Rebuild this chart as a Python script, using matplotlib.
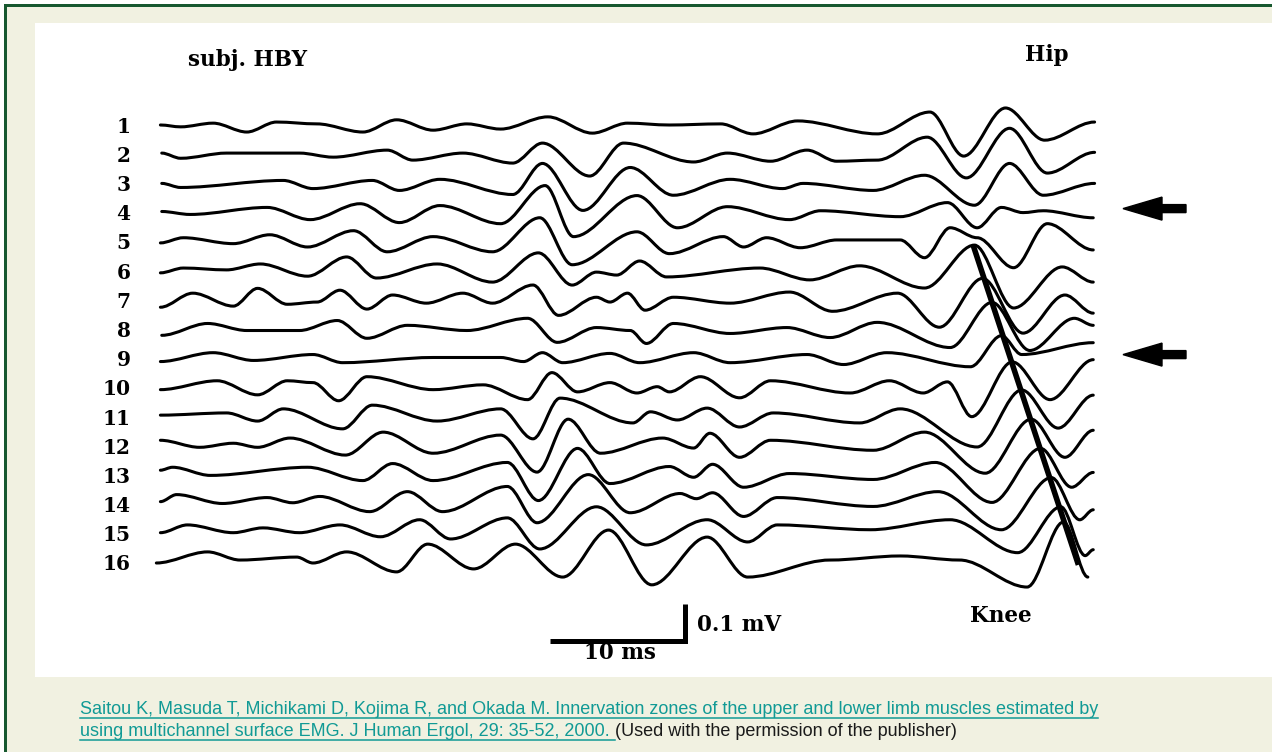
import matplotlib
matplotlib.use("Agg")
import matplotlib.pyplot as plt
from matplotlib.path import Path
from matplotlib.patches import PathPatch, Rectangle, FancyArrow
from matplotlib.transforms import offset_copy
from matplotlib import font_manager

# ==================== DATA: waveform landmarks (time in ms, amplitude in uV) ====================
ch1_t = [0.4, 1.9, 4.3, 6.8, 9.0, 12.0, 15.4, 17.9, 20.6, 23.1, 25.6, 29.1, 32.4, 35.0, 38.1, 41.9, 44.3, 47.6, 53.5, 57.4, 59.9, 63.0, 65.9, 69.6]
ch1_uv = [0, -5, 5, -19, 8, 3, -19, 14, -14, 3, -11, 22, -22, 5, 0, 3, -24, 11, -24, 35, -84, 46, -41, 8]
ch2_t = [0.5, 1.9, 5.3, 10.7, 13.2, 17.2, 19.1, 22.8, 26.5, 28.7, 32.2, 34.7, 39.9, 42.4, 45.6, 48.3, 50.5, 53.5, 57.2, 60.1, 63.3, 66.1, 69.6]
ch2_uv = [3, -11, 3, 3, -8, 11, -16, 3, -24, 30, -59, 30, -21, 3, -19, 11, -19, -16, 46, -64, 70, -51, 5]
ch3_t = [0.5, 1.9, 9.5, 11.7, 16.1, 18.1, 21.1, 26.5, 28.7, 31.7, 35.2, 38.4, 42.6, 46.5, 48.0, 53.2, 57.0, 60.7, 63.3, 65.8, 69.6]
ch3_uv = [0, -11, 8, -14, 8, -19, 11, -30, 54, -73, 43, -32, 11, -14, 0, -19, 22, -59, 54, -32, 0]
ch4_t = [0.5, 2.6, 8.3, 11.5, 15.2, 18.1, 21.1, 25.6, 28.9, 31.0, 35.7, 38.7, 42.4, 47.0, 49.3, 55.2, 58.7, 60.9, 62.7, 64.3, 65.8, 69.5]
ch4_uv = [3, -5, 14, -19, 24, -27, 19, -30, 73, -65, 46, -41, 16, -19, 5, -11, 27, -41, 14, 0, 5, -14]
ch5_t = [0.4, 2.1, 5.8, 8.5, 11.3, 14.7, 17.2, 20.6, 25.0, 28.5, 30.9, 35.7, 38.1, 42.1, 43.6, 45.3, 47.8, 50.5, 55.2, 57.0, 58.9, 60.9, 63.6, 66.1, 69.5]
ch5_uv = [-3, 11, -5, 19, -14, 30, -27, 14, -27, 65, -62, 27, -32, 14, -14, 11, -16, 5, 5, -43, 38, 11, -70, 49, -22]
ch6_t = [0.4, 2.1, 5.3, 7.8, 11.3, 14.2, 16.4, 20.9, 25.0, 28.4, 30.9, 32.7, 34.2, 35.9, 37.9, 44.8, 48.5, 52.2, 57.0, 60.7, 63.6, 67.2, 69.5]
ch6_uv = [-5, 8, 3, 19, -14, 38, -19, 19, -30, 49, -38, -3, -11, 27, -16, 8, -24, 14, -46, 70, -100, 11, -30]
ch7_t = [0.4, 2.8, 5.8, 7.6, 9.8, 12.0, 13.7, 15.7, 17.6, 20.1, 22.8, 25.0, 28.0, 29.9, 32.7, 33.7, 35.0, 36.3, 38.4, 42.6, 47.0, 50.2, 55.0, 58.1, 61.3, 64.3, 67.4, 69.5]
ch7_uv = [-19, 19, -16, 32, -11, -5, 27, -24, 14, -8, 19, -8, 41, -41, 8, -5, 19, -27, 8, -8, 22, -30, 19, -73, 59, -89, 14, -35]
ch8_t = [0.5, 3.9, 6.8, 10.7, 13.5, 15.7, 18.7, 23.1, 27.6, 29.8, 32.7, 35.2, 36.4, 38.4, 42.6, 46.8, 50.0, 53.5, 58.9, 62.0, 64.8, 68.1, 69.5]
ch8_uv = [-16, 16, -3, -3, 24, -24, 11, -3, 30, -35, 5, -3, -38, 16, -11, 5, -22, 19, -49, 73, -57, 30, 11]
ch9_t = [0.4, 4.3, 7.3, 11.7, 13.9, 20.6, 25.6, 27.3, 28.7, 30.2, 33.7, 35.9, 39.9, 42.6, 48.3, 51.0, 54.2, 60.4, 62.7, 64.2, 69.5]
ch9_uv = [-8, 16, -5, 11, -11, 3, 3, -8, 16, -11, 14, -11, 16, -11, 11, -16, 16, -22, 62, 11, 43]
ch10_t = [0.4, 4.6, 7.6, 9.8, 11.7, 13.6, 15.7, 20.6, 24.3, 27.6, 29.4, 31.3, 33.7, 35.7, 37.2, 38.1, 40.4, 43.3, 45.6, 51.5, 54.4, 56.9, 58.7, 60.5, 63.5, 66.3, 69.5]
ch10_uv = [-5, 19, -19, 19, 14, -35, 30, -5, 8, -32, 41, -11, 14, -14, 3, -11, 30, -27, 19, -14, 19, -14, 16, -78, 70, -32, 76]
ch11_t = [0.4, 5.3, 7.6, 9.5, 13.9, 16.1, 20.9, 25.6, 28.0, 30.0, 35.4, 36.7, 38.7, 40.9, 43.3, 45.8, 52.2, 55.2, 60.9, 64.2, 66.9, 69.5]
ch11_uv = [5, 11, -11, 22, -32, 32, -11, 22, -59, 51, -16, 14, -8, 24, -27, 11, -16, 22, -81, 73, -30, 59]
ch12_t = [0.4, 3.3, 5.8, 7.6, 10.0, 14.1, 16.9, 20.6, 25.6, 28.3, 30.6, 33.0, 37.6, 39.9, 41.1, 43.3, 45.6, 53.2, 57.0, 61.5, 64.9, 67.4, 69.5]
ch12_uv = [16, -3, 8, -3, 22, -24, 38, -19, 30, -70, 73, -19, 22, -5, 35, -30, 16, -11, 38, -73, 73, -30, 43]
ch13_t = [0.4, 1.3, 4.1, 11.3, 15.4, 17.6, 20.6, 26.1, 28.4, 31.3, 33.7, 38.1, 39.9, 41.3, 43.6, 47.0, 53.2, 57.8, 62.0, 65.6, 67.9, 69.5]
ch13_uv = [14, 22, 0, 22, -14, 32, -14, 35, -68, 73, -22, 24, -5, 30, -32, 5, -11, 35, -73, 73, -32, 8]
ch14_t = [0.4, 1.6, 5.0, 8.3, 10.2, 12.2, 15.9, 18.7, 21.3, 26.1, 28.3, 32.1, 35.2, 38.9, 40.1, 41.3, 43.6, 46.1, 53.2, 58.0, 62.7, 66.4, 68.5, 69.5]
ch14_uv = [8, 27, 3, 19, 5, 22, -19, 35, -19, 49, -49, 81, -22, 30, 16, 32, -32, 19, -5, 35, -68, 73, -41, -14]
ch15_t = [0.4, 2.4, 5.8, 8.0, 10.7, 13.7, 16.7, 19.6, 21.9, 26.1, 28.5, 32.7, 36.4, 40.9, 43.9, 46.1, 53.0, 58.9, 63.9, 67.1, 68.9, 69.5]
ch15_uv = [3, 24, 3, 16, 3, 24, -8, 38, -14, 43, -41, 73, -30, 38, -22, 24, 11, 38, -51, 73, -59, -43]
ch16_t = [0.1, 3.9, 6.3, 10.5, 11.7, 14.2, 17.9, 20.2, 23.6, 26.7, 30.2, 33.6, 36.8, 40.9, 43.9, 50.0, 55.2, 59.6, 64.6, 67.3, 69.1]
ch16_uv = [0, 30, 8, 16, 0, 30, -24, 51, -16, 51, -38, 89, -59, 70, -38, 8, 19, 8, -65, 111, -38]

times = [ch1_t, ch2_t, ch3_t, ch4_t, ch5_t, ch6_t, ch7_t, ch8_t,
         ch9_t, ch10_t, ch11_t, ch12_t, ch13_t, ch14_t, ch15_t, ch16_t]
amps = [ch1_uv, ch2_uv, ch3_uv, ch4_uv, ch5_uv, ch6_uv, ch7_uv, ch8_uv,
        ch9_uv, ch10_uv, ch11_uv, ch12_uv, ch13_uv, ch14_uv, ch15_uv, ch16_uv]

# propagation line: from the channel 6 peak down to channel 16
prop_t = [60.6, 68.4]
prop_ch = [6, 16]
prop_uv = [70, -5]

arrow_channels = [4, 9]
scale_ms = 10
scale_mv = 0.1

subject = 'subj. HBY'
cap1 = ('Saitou K, Masuda T, Michikami D, Kojima R, and Okada M. Innervation zones '
        'of the upper and lower limb muscles estimated by')
cap2a = 'using multichannel surface EMG. J Human Ergol, 29: 35-52, 2000. '
cap2b = '(Used with the permission of the publisher)'

# ==================== LAYOUT ====================
W, H = 1272, 752
PX_PER_MS = 13.5
PX_PER_MV = 370.0
T0_PX = 155          # pixel column of t = 0
V0_PX = 125          # pixel row of channel 1 baseline
GAP_PX = 29.2
GAP_MV = GAP_PX / PX_PER_MV

GREEN = '#17582f'
BEIGE = '#f1f1e1'
TEAL = '#119a95'
SERIF = dict(family='DejaVu Serif', fontweight='bold', color='black')

installed = {f.name for f in font_manager.fontManager.ttflist}
CAP_FONT = 'Liberation Sans Narrow' if 'Liberation Sans Narrow' in installed else 'Liberation Sans'

fig = plt.figure(figsize=(W / 100, H / 100), dpi=100)
fig.patch.set_facecolor('white')

# pixel overlay for the page frame, arrows and text
bg = fig.add_axes([0, 0, 1, 1])
bg.set_xlim(0, W)
bg.set_ylim(H, 0)
bg.axis('off')
bg.add_patch(Rectangle((4, 4), W, H, facecolor=GREEN, edgecolor='none'))
bg.add_patch(Rectangle((7, 7), W, H, facecolor=BEIGE, edgecolor='none'))
bg.add_patch(Rectangle((35, 23), W, 654, facecolor='white', edgecolor='none'))

# data axes: x in ms, y in mV (channel 1 baseline at 0)
ax = fig.add_axes([0, 0, 1, 1])
ax.set_xlim(-T0_PX / PX_PER_MS, (W - T0_PX) / PX_PER_MS)
ax.set_ylim(-(H - V0_PX) / PX_PER_MV, V0_PX / PX_PER_MV)
ax.axis('off')


def wave_path(t, y):
    # smooth curve through the landmarks, flat tangent at each landmark
    verts = [(t[0], y[0])]
    codes = [Path.MOVETO]
    for i in range(len(t) - 1):
        d = (t[i + 1] - t[i]) / 3.0
        verts += [(t[i] + d, y[i]), (t[i + 1] - d, y[i + 1]), (t[i + 1], y[i + 1])]
        codes += [Path.CURVE4] * 3
    return Path(verts, codes)


label_tr = offset_copy(ax.transData, fig=fig, x=0, y=-7.5, units='dots')
for k, (t, uv) in enumerate(zip(times, amps), start=1):
    base = -(k - 1) * GAP_MV
    y = [base + a / 1000.0 for a in uv]
    ax.add_patch(PathPatch(wave_path(t, y), fill=False, edgecolor='black',
                           lw=2.2, capstyle='round', joinstyle='round'))
    ax.text(-1.8, base, str(k), ha='right', va='baseline', fontsize=14.5,
            transform=label_tr, **SERIF)

prop_y = [-(c - 1) * GAP_MV + a / 1000.0 for c, a in zip(prop_ch, prop_uv)]
ax.plot(prop_t, prop_y, color='black', lw=4, solid_capstyle='butt')

# scale bar
corner_t = 39.26
corner_v = -(641 - V0_PX) / PX_PER_MV
ax.plot([corner_t - scale_ms, corner_t, corner_t],
        [corner_v, corner_v, corner_v + scale_mv],
        color='black', lw=3.6, solid_joinstyle='miter', solid_capstyle='butt')

# arrows on the right
for c in arrow_channels:
    ya = V0_PX + (c - 1) * GAP_PX - 4
    bg.add_patch(FancyArrow(1186, ya, -63, 0, width=8, head_width=23, head_length=39,
                            length_includes_head=True, color='black'))

bg.text(248, 66, subject, ha='center', va='baseline', fontsize=15.5, **SERIF)
bg.text(1047, 61, 'Hip', ha='center', va='baseline', fontsize=15.5, **SERIF)
bg.text(1001, 622, 'Knee', ha='center', va='baseline', fontsize=15.5, **SERIF)
bg.text(697, 631, '0.1 mV', ha='left', va='baseline', fontsize=15.5, **SERIF)
bg.text(620, 659, '10 ms', ha='center', va='baseline', fontsize=15.5, **SERIF)

# caption
t1 = bg.text(80, 714, cap1, ha='left', va='baseline', fontsize=13,
             family=CAP_FONT, color=TEAL)
t2a = bg.text(80, 736, cap2a, ha='left', va='baseline', fontsize=13,
              family=CAP_FONT, color=TEAL)
fig.canvas.draw()
r = fig.canvas.get_renderer()
fs = 13 * 1017 / t1.get_window_extent(r).width
t1.set_fontsize(fs)
t2a.set_fontsize(fs)
fig.canvas.draw()
b1 = t1.get_window_extent(r)
b2 = t2a.get_window_extent(r)
bg.plot([b1.x0, b1.x1], [717.5, 717.5], color=TEAL, lw=1.1)
bg.plot([b2.x0, b2.x1], [739.5, 739.5], color=TEAL, lw=1.1)
bg.text(b2.x1, 736, cap2b, ha='left', va='baseline', fontsize=fs,
        family=CAP_FONT, color='#1a1a1a')

fig.savefig('out.png', dpi=100, facecolor=fig.get_facecolor())
